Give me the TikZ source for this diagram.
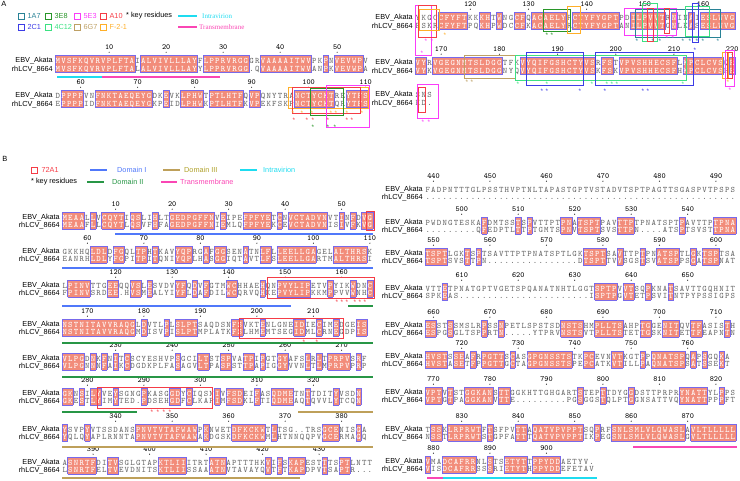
\documentclass[tikz,border=0pt]{standalone}
\usepackage{fontspec}
\setmainfont{Liberation Serif}
\setsansfont{Liberation Sans}
\usepackage{xstring}
\usetikzlibrary{positioning}

\definecolor{idfill}{RGB}{242,140,122}
\definecolor{idframe}{RGB}{120,105,235}
\definecolor{resgray}{RGB}{105,105,105}
\definecolor{abTeal}{RGB}{40,130,150}
\definecolor{abBlue}{RGB}{60,60,230}
\definecolor{abGreen}{RGB}{40,150,40}
\definecolor{abMint}{RGB}{60,225,130}
\definecolor{abMagenta}{RGB}{250,60,250}
\definecolor{abTan}{RGB}{190,160,100}
\definecolor{abRed}{RGB}{245,60,70}
\definecolor{abOrange}{RGB}{255,175,40}
\definecolor{regCyan}{RGB}{30,220,240}
\definecolor{regPink}{RGB}{250,70,180}
\definecolor{domOne}{RGB}{80,120,250}
\definecolor{domTwo}{RGB}{40,150,70}
\definecolor{domThree}{RGB}{190,160,90}
\definecolor{domThreeTxt}{RGB}{175,160,40}

\tikzset{
  res/.style={font=\ttfamily\fontsize{8.4}{8.4}\selectfont, inner sep=0pt, anchor=base},
  seqname/.style={font=\sffamily\fontsize{7.3}{7.3}\selectfont, inner sep=0pt, anchor=base east},
  seqnum/.style={font=\ttfamily\fontsize{7.8}{7.8}\selectfont, inner sep=0pt, anchor=base},
  keystar/.style={font=\sffamily\fontsize{6.5}{6.5}\selectfont, inner sep=0pt, yshift=-1.5pt},
  epi/.style={line width=0.8pt},
  regbar/.style={line width=1.4pt},
  legsq/.style={draw, line width=0.8pt, minimum size=6pt, inner sep=0pt},
  legtext/.style={font=\sffamily\fontsize{7.3}{7.3}\selectfont, inner sep=0pt, anchor=west},
  regtext/.style={font=\rmfamily\fontsize{7}{7}\selectfont, inner sep=0pt, anchor=west},
  panellab/.style={font=\sffamily\fontsize{7.5}{7.5}\selectfont, inner sep=0pt}
}

% identity test of one alignment column
\newif\ifsame \newif\ifprevid \newif\ifnextid
\def\gapchar{.}
\newcommand\colsame[1]{%
  \samefalse
  \ifnum#1>0
    \ifnum#1>\lenmin\relax\else
      \StrChar{\seqE}{#1}[\chE]\StrChar{\seqR}{#1}[\chR]%
      \ifx\chE\chR\ifx\chE\gapchar\else\sametrue\fi\fi
    \fi
  \fi}

% one block: x0, y0, first residue number, EBV row, rhLCV row
\newcommand\alnrow[5]{%
  \def\seqE{#4}\def\seqR{#5}%
  \StrLen{#4}[\lenE]\StrLen{#5}[\lenR]%
  \ifnum\lenE<\lenR\relax\let\lenmin\lenE\let\lenmax\lenR\else\let\lenmin\lenR\let\lenmax\lenE\fi
  \node[seqname] at (#1-2,#2+2.8) {EBV\_Akata};
  \node[seqname] at (#1-2,#2+\rs+2.8) {rhLCV\_8664};
  \foreach \i in {1,...,\lenmax}{%
    \pgfmathtruncatemacro\iprev{\i-1}%
    \pgfmathtruncatemacro\inext{\i+1}%
    \colsame{\iprev}\ifsame\previdtrue\else\previdfalse\fi
    \colsame{\inext}\ifsame\nextidtrue\else\nextidfalse\fi
    \StrChar{\seqE}{\i}[\resE]\StrChar{\seqR}{\i}[\resR]%
    \colsame{\i}%
    \pgfmathsetmacro\xl{#1+(\i-1)*\cw}%
    \pgfmathsetmacro\xr{#1+\i*\cw}%
    \pgfmathsetmacro\xc{#1+(\i-0.5)*\cw}%
    \ifsame
      \fill[idfill] (\xl,#2-4.6) rectangle (\xr,#2+\rs+4.2);
      \draw[idframe] (\xl,#2-4.6) -- (\xr,#2-4.6) (\xl,#2+\rs+4.2) -- (\xr,#2+\rs+4.2);
      \ifprevid\else\draw[idframe] (\xl,#2-4.6) -- (\xl,#2+\rs+4.2);\fi
      \ifnextid\else\draw[idframe] (\xr,#2-4.6) -- (\xr,#2+\rs+4.2);\fi
      \node[res, white] at (\xc,#2+3) {\resE};
      \node[res, white] at (\xc,#2+\rs+3) {\resR};
    \else
      \node[res, resgray] at (\xc,#2+3) {\resE};
      \node[res, resgray] at (\xc,#2+\rs+3) {\resR};
    \fi
    \pgfmathtruncatemacro\resno{#3+\i-1}%
    \pgfmathtruncatemacro\resmod{mod(\resno,10)}%
    \ifnum\resmod=0
      \node[seqnum] at (\xc,#2-10.5) {\resno};
      \fill (\xc,#2-7.8) circle (0.55);
    \fi
  }%
}

\begin{document}
\begin{tikzpicture}[x=1pt, y=-1pt]
  \useasboundingbox (0,0) rectangle (740,480);

  % ---------------- Panel A ----------------
  \node[panellab] (labA) at (4,4) {A};

  % Legend
  \node[legsq, abTeal] (sq1A7) at (21,16) {};
  \node[legtext, abTeal, right=3pt of sq1A7] {1A7};
  \node[legsq, abGreen] (sq3E8) at (48,16) {};
  \node[legtext, abGreen, right=3pt of sq3E8] {3E8};
  \node[legsq, abMagenta] (sq5E3) at (77,16) {};
  \node[legtext, abMagenta, right=3pt of sq5E3] {5E3};
  \node[legsq, abRed] (sqA10) at (103,16) {};
  \node[legtext, abRed, right=3pt of sqA10] {A10};
  \node[legtext] (keyA) at (126,16) {* key residues};
  \node[legsq, abBlue] (sq2C1) at (21,27) {};
  \node[legtext, abBlue, right=3pt of sq2C1] {2C1};
  \node[legsq, abMint] (sq4C12) at (48,27) {};
  \node[legtext, abMint, right=3pt of sq4C12] {4C12};
  \node[legsq, abTan] (sq6G7) at (77,27) {};
  \node[legtext, abTan, right=3pt of sq6G7] {6G7};
  \node[legsq, abOrange] (sqF21) at (103,27) {};
  \node[legtext, abOrange, right=3pt of sqF21] {F-2-1};
  \draw[regbar, regCyan] (178,16) -- (197,16);
  \node[regtext, regCyan] (legIntraA) at (202,16) {Intravirion};
  \draw[regbar, regPink] (178,27) -- (197,27);
  \node[regtext, regPink] (legTmA) at (199,27) {Transmembrane};

  % Alignment
  \def\cw{5.7}\def\rs{8.3}
  \alnrow{55}{60}{1}{MVSFKQVRVPLFTAIALVIVLLLAYFLPPRVRGGGRVAAAAITWVPKPNVEVWPV}{MVSFKQVRVPLFTALALVIVLLLAYYLPPRVRGG.QVAAAAITWVANPKVEVWPA}
  \alnrow{55}{95}{56}{DPPPPVNFNKTAEQEYGDKEVKLPHWTPTLHTFQVPQNYTRANCTYCKTREYTFS}{EPPPPIDFNKTAEQEYGKPEIDLPHWKPTLHTFKVPEKFSKPNCTYCKTQRYTFS}
  \def\cw{5.82}
  \alnrow{415}{17}{111}{YKGCCFYFTKKKHTWNGCFQACAELYPCTYFYGPTPDILPVVTRNINAIESLWVG}{FSKRCFYFTPQKHPWDCCFKACAELYRCTYFYGPTANILPVVTGNLKASESLWVG}
  \alnrow{415}{62}{166}{VYRVGEGNMTSLDGGTFKVYQIFGSHCTYVSRFSTVPVSHHECSFLKPCLCVSQR}{VYKVGEGNMTSLDGGNYQVYQIFGSHCTYVSKFSKVPVSHHECSFHKPCLCVSHR}
  \alnrow{415}{94}{221}{SNS}{KD.}

  % Regions under the first row
  \draw[regbar, regCyan] (57,77) -- (102,77);
  \draw[regbar, regPink] (102,77) -- (220,77);

  % Epitopes, left lower block
  \draw[epi, abOrange] (288,87) rectangle (368,108);
  \draw[epi, abRed] (292,87.5) rectangle (360,113);
  \draw[epi, abGreen] (310,88) rectangle (343,115);
  \draw[epi, abMagenta] (326,85) rectangle (369,127);
  \foreach \sx in {293,302,312,331,336,347,362} \node[keystar, abOrange] at (\sx,112) {*};
  \foreach \sx in {294,307,313,328,347,352} \node[keystar, abRed] at (\sx,119) {*};
  \foreach \sx in {313,328,335} \node[keystar, abGreen] at (\sx,125.5) {*};

  % Epitopes, right upper block
  \draw[epi, abMagenta] (415,5) rectangle (431,55);
  \draw[epi, abRed] (418,5) rectangle (436,37);
  \draw[epi, abOrange] (419,9) rectangle (439,30);
  \foreach \sx in {426,432} \node[keystar, abMagenta] at (\sx,40) {*};
  \node[keystar, abMagenta] at (422,52) {*};
  \node[keystar, abOrange] at (445,34) {*};
  \draw[epi, abGreen] (543,9) rectangle (570,31);
  \foreach \sx in {547,552} \node[keystar, abGreen] at (\sx,34) {*};
  \draw[epi, abOrange] (567,6) rectangle (580,33);
  \draw[epi, abMagenta] (624,8) rectangle (676,35);
  \draw[epi, abTeal] (635,9) rectangle (720,37);
  \draw[epi, abMint] (642,3) rectangle (657,41);
  \draw[epi, abRed] (647,8) rectangle (653,41);
  \draw[epi, abRed] (664,8) rectangle (669,33);
  \draw[epi, abMint] (685,6) rectangle (709,36);
  \draw[epi, abBlue] (692,3) rectangle (698,42);
  \foreach \sx in {667,673} \node[keystar, abMagenta] at (\sx,37) {*};
  \foreach \sx in {637,653,660,683,690,697,703,718} \node[keystar, abTeal] at (\sx,40) {*};
  \node[keystar, abBlue] at (695,49) {*};

  % Epitopes, right middle block
  \draw[epi, abTan] (464,55) rectangle (515,78);
  \foreach \sx in {467,472} \node[keystar, abTan] at (\sx,81) {*};
  \draw[epi, abMint] (515,55) rectangle (686,80);
  \foreach \sx in {518,547,592,607,612,617,683} \node[keystar, abMint] at (\sx,82.5) {*};
  \draw[epi, abBlue] (526,52) rectangle (583,85);
  \draw[epi, abBlue] (595,52) rectangle (693,85);
  \foreach \sx in {542,547,580,605,643,648} \node[keystar, abBlue] at (\sx,89.5) {*};
  \draw[epi, abOrange] (722,52) rectangle (728,78);
  \draw[epi, abRed] (727,52) rectangle (732,78);
  \draw[epi, abMagenta] (725,50) rectangle (734,86);
  \node[keystar, abOrange] at (728,81) {*};
  \node[keystar, abMagenta] at (730,89) {*};

  % Epitopes, right lower block
  \draw[epi, abRed] (418,87) rectangle (425,112);
  \draw[epi, abMagenta] (417,84) rectangle (438,118);
  \foreach \sx in {423,429} \node[keystar, abMagenta] at (\sx,121) {*};

  % ---------------- Panel B ----------------
  \node[panellab] (labB) at (5,159) {B};

  % Legend
  \node[legsq, abRed] (sq72A1) at (34,170) {};
  \node[legtext, abRed, right=4pt of sq72A1] {72A1};
  \node[legtext] (keyB) at (31,182) {* key residues};
  \draw[regbar, domOne] (90,170) -- (107,170);
  \node[legtext, domOne] (legD1) at (117,170) {Domain I};
  \draw[regbar, domTwo] (87,182) -- (104,182);
  \node[legtext, domTwo] (legD2) at (112,182) {Domain II};
  \draw[regbar, domThree] (163,170) -- (180,170);
  \node[legtext, domThreeTxt] (legD3) at (184,170) {Domain III};
  \draw[regbar, regPink] (161,182) -- (177,182);
  \node[legtext, regPink] (legTmB) at (180,182) {Transmembrane};
  \draw[regbar, regCyan] (240,170) -- (257,170);
  \node[legtext, regCyan] (legIntraB) at (263,170) {Intravirion};

  % Alignment, left column
  \def\cw{5.65}\def\rs{7.7}
  \alnrow{62}{217}{1}{MEAALLVCQYTIQSLIHLTGEDPGFFNVEIPEFPFYETCNVCTADVNVTINFDVG}{MEAAFLLCQYTLQSVFHFAGEDPGFFNIEMLQFPFYEKCEVCTADVNISIVFKVG}
  \alnrow{62}{251}{56}{GKKHQLDLDFGQLTPHTKAVYQPRGAFGGSENATNLFLLEELLGAGELALTHRSK}{EANRHLDLYFGPITPITQNIYQPLHASGGIQTAVTLFSLEELLGARTMALTHRSI}
  \alnrow{62}{285}{111}{LPINVTTGEEQQVSLESVDVYFQDVFGTMWCHHAEHQNPVYLIPETVPYIKWDNC}{FPINVSRDEE.HVSMEALYIYFLDAFDILWCQRVQHKEPVYLIPKKMPPVVWNHC}
  \alnrow{62}{324}{166}{NSTNITAVVRAQGLDVTLPLSLPTSAQDSNFSVKTENLGNEIDIECIMEDGEIS}{NSTNITAVVRAQGMDISVPISLPTMPLATKFSLHMEMTSEGIDMLCRNEGDPIS}
  \alnrow{62}{358}{221}{VLPGDNKFNITCSCYESHVPSGCILTSTSPVATPIPGTGYAFSLRLTPRPVSRF}{VLPGNNNFAIKCDGDKPLFASAGVLTPASPSTTPAPIGGYVVNLTLMPRPVPRP}
  \alnrow{62}{393}{276}{GKNSILYVEYSGNGPKASGGDYCIQSNIVFSDEIFASQDMETNTTDITYVSDN}{GKESTLYIMYTED.PDSEHGDFCLKAPIMFSDKLFTIQDMEAQTQVVLYTCQN}
  \alnrow{62}{429}{331}{YSVPYVTSSDANSPNVTVTAFWAWPKNWETDFKCKWTLTSG..TRSGCENISGA}{YQLQYAPLRNNTAPNVTVTAFWAWAKDGSKDFKCKWMLHTNNQQPVGCERMAGQ}
  \alnrow{62}{462}{385}{ASNRTFDITVSGLGTAPKTLIIITRTATNAPTTTHKVIFSKAPESTTTSPTLNTT}{LSNRTFELTVEVDNITSKTLIISSAAATNVTAVAYQVTFTKAPDPVTSAPTR...}

  % Alignment, right column
  \alnrow{425}{189}{439}{FADPNTTTGLPSSTHVPTNLTAPASTGPTVSTADVTSPTPAGTTSGASPVTPSPS}{.......................................................}
  \alnrow{425}{222}{494}{PWDNGTESKAFDMTSSTSPVTTPTPNATSPTPAVTTPTPNATSPTPAVTTPTPNA}{.........QFEDPTLTTPTGMTSPNVTSPTSVSTTPN....ATSPTSVSTTPNA}
  \alnrow{425}{253}{549}{TSPTLGKTSPTSAVTTPTPNATSPTLGKTSPTSAVTTPTPNATSPTLGKTSPTSA}{TSPTSVSTTPN................DTSPTTVVSGSTSVATSPPSGATSPNAT}
  \alnrow{425}{288}{604}{VTTETPNATGPTVGETSPQANATNHTLGGTSPTPVVTSQPKNATSAVTTGQHNIT}{SPKEAS.......................ISPTPGVTETPSVITNTPYPSSIGPS}
  \alnrow{425}{325}{659}{ESSTSSMSLRPSSNPETLSPSTSDNSTSHMPLLTSAHPTGGENITQVTFASISTH}{ESPGSGLTSPPRTN.....YTPRVNSTSVTPLLTSTETTGSKNITETTFEAPNTN}
  \alnrow{425}{356}{714}{HVSTSSEAFRPGTTSCASGPGNSSTSTKPCEVNVTKGTPPQNATSPQAPSGQKA}{HVSTASETFPPGTTGCTAGPGNSSTSPEPCATKVTILLPAQNATSPSATSSEKT}
  \alnrow{425}{392}{769}{VPTVTSTGGKANSTTGGKHTTGHGARTSTEPTTDYGGDSTTPRPRYNATTYLPPS}{VPTGTPAGGKANVTTE.........PGSGGSTQLPTGGNSATTVQYNATTPPPFT}
  \alnrow{425}{429}{824}{TSSKLRPRWTFTSFPVTTAQATVPVPPTSQPRFSNLSMLVLQWASLAVLTLLLLL}{NSSTLRPRWTSTGPFATTTQATVPVPPTIKPEGSNLSMLVLQWASLGVLTLLLLL}
  \alnrow{425}{461}{879}{VMADCAFRRNLSTSETYTTPPYDDAETYV.}{VISDCAFRRSSSRIETYTHPPYDDEFETAV}

  % Domains and regions
  \draw[regbar, domOne] (115,234) -- (373,234);
  \draw[regbar, domOne] (62,268) -- (373,268);
  \draw[regbar, domOne] (62,306) -- (291,306);
  \draw[regbar, domTwo] (348,306) -- (373,306);
  \draw[regbar, domTwo] (62,343) -- (373,343);
  \draw[regbar, domTwo] (62,377) -- (373,377);
  \draw[regbar, domTwo] (62,412) -- (137,412);
  \draw[regbar, domThree] (298,412) -- (373,412);
  \draw[regbar, domThree] (62,447) -- (373,447);
  \draw[regbar, domThree] (62,478) -- (300,478);
  \draw[regbar, regPink] (633,447) -- (737,447);
  \draw[regbar, regPink] (427,478) -- (443,478);
  \draw[regbar, regCyan] (443,478) -- (597,478);

  % 72A1 epitope
  \draw[epi, abRed] (366,211) rectangle (374,230);
  \draw[epi, abRed] (267,277) rectangle (374,298);
  \foreach \sx in {337,342,347,355,360,365} \node[keystar, abRed] at (\sx,301) {*};
  \draw[epi, abRed] (239,318) rectangle (343,338);
  \foreach \sx in {304,317} \node[keystar, abRed] at (\sx,341) {*};
  \draw[epi, abRed] (97,387) rectangle (212,408);
  \foreach \sx in {152,158,164,170} \node[keystar, abRed] at (\sx,411) {*};
\end{tikzpicture}
\end{document}
